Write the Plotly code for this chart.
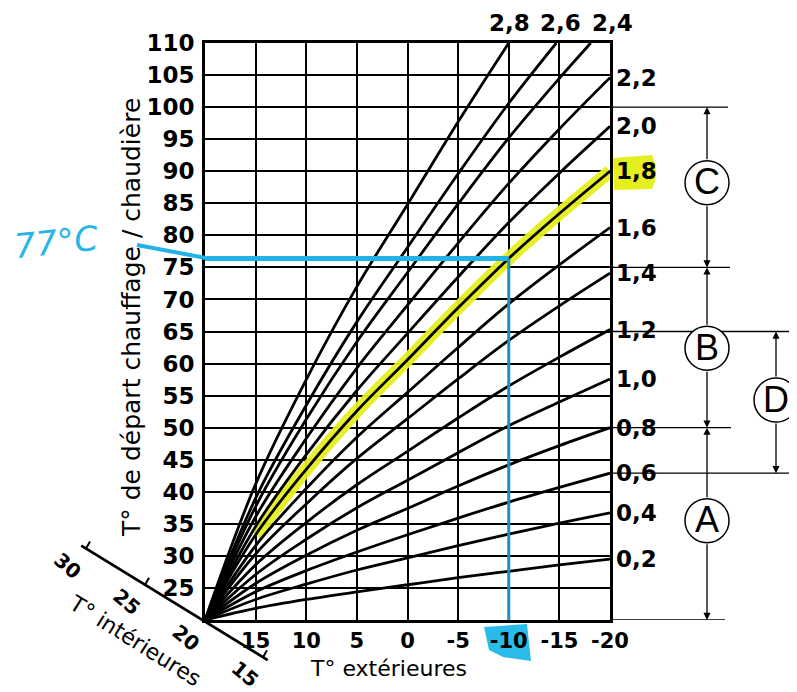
import plotly.graph_objects as go

# ---------------- data ----------------
t_ext = [20, 15, 10, 5, 0, -5, -10, -15, -20]
curve_02 = [20, 21.8, 23.2, 24.4, 25.5, 26.6, 27.6, 28.6, 29.5]
curve_04 = [20, 23.2, 25.6, 27.8, 29.7, 31.6, 33.4, 35.1, 36.7]
curve_06 = [20, 24.4, 27.7, 30.6, 33.3, 35.9, 38.4, 40.7, 42.9]
curve_08 = [20, 25.7, 30.1, 34.0, 37.4, 40.9, 44.2, 47.2, 50.0]
curve_10 = [20, 27.1, 32.6, 37.5, 41.8, 46.1, 50.3, 54.0, 57.6]
curve_12 = [20, 28.6, 35.2, 41.1, 46.3, 51.5, 56.5, 61.0, 65.3]
curve_14 = [20, 30.3, 38.1, 45.2, 51.4, 57.6, 63.6, 69.0, 74.1]
curve_16 = [20, 31.6, 40.5, 48.5, 55.5, 62.5, 69.3, 75.4, 81.2]
curve_18 = [20, 33.3, 43.5, 52.6, 60.6, 68.7, 76.4, 83.4, 90.0]
curve_20 = [20, 34.6, 45.8, 55.8, 64.7, 73.5, 82.0, 89.7, 97.0]
curve_22 = [20, 36.1, 48.3, 59.3, 69.1, 78.8, 88.1, 96.6, 104.6]
t_ext_24 = [20, 15, 10, 5, 0, -5, -10, -15, -18.1]
curve_24 = [20, 37.7, 51.3, 63.4, 74.2, 84.9, 95.2, 104.5, 110]
t_ext_26 = [20, 15, 10, 5, 0, -5, -10, -14.7]
curve_26 = [20, 39.0, 53.5, 66.5, 78.1, 89.6, 100.6, 110]
t_ext_28 = [20, 15, 10, 5, 0, -5, -10]
curve_28 = [20, 41.2, 57.5, 72.0, 84.8, 97.7, 110]

right_labels = ["0,2", "0,4", "0,6", "0,8", "1,0", "1,2", "1,4", "1,6", "1,8", "2,0", "2,2"]
top_labels = ["2,4", "2,6", "2,8"]

y_tick_vals = [20, 25, 30, 35, 40, 45, 50, 55, 60, 65, 70, 75, 80, 85, 90, 95, 100, 105, 110]
x_tick_vals = [20, 15, 10, 5, 0, -5, -10, -15, -20]
interior_ticks = [30, 25, 20, 15]

zone_letters = ["C", "B", "A", "D"]
zone_top = [100, 75, 50, 65]
zone_bottom = [75, 50, 20, 42.9]
zone_mid = [88.2, 62.4, 35.5, 54.3]

reading_flow = 76.4   # 77°C reading
reading_ext = -10
reading_text = "77°C"

# ---------------- layout helpers ----------------
PAGE_W, PAGE_H = 797, 692
OFF = 8                       # default page body margin
L, R, T, B = 205, 610, 43, 620  # plot area in page pixels


def px(x):
    return (x - L) / (R - L)


def py(y):
    return (B - y) / (B - T)


FONT = "DejaVu Sans"
fig = go.Figure()

std_curves = [curve_02, curve_04, curve_06, curve_08, curve_10, curve_12,
              curve_14, curve_16, curve_18, curve_20, curve_22]

# yellow highlighter along the 1,8 curve
fig.add_trace(go.Scatter(x=t_ext[1:], y=curve_18[1:], mode="lines",
                         line=dict(color="#e6ef1e", width=13, shape="spline"),
                         opacity=0.95, hoverinfo="skip", showlegend=False))

for c in std_curves:
    fig.add_trace(go.Scatter(x=t_ext, y=c, mode="lines",
                             line=dict(color="black", width=2.8, shape="spline"),
                             showlegend=False))
for xs, ys in [(t_ext_24, curve_24), (t_ext_26, curve_26), (t_ext_28, curve_28)]:
    fig.add_trace(go.Scatter(x=xs, y=ys, mode="lines",
                             line=dict(color="black", width=2.8, shape="spline"),
                             showlegend=False))

fig.update_xaxes(range=[20, -20], tickmode="array", tickvals=x_tick_vals,
                 ticktext=["" if v == 20 else str(v) for v in x_tick_vals],
                 showgrid=True, gridcolor="black", gridwidth=2.2,
                 showline=True, linecolor="black", linewidth=2.8, mirror=True,
                 zeroline=False, ticks="", ticklabelstandoff=0,
                 tickfont=dict(family=FONT, size=21, color="black", weight="bold"),
                 automargin=False)
fig.update_yaxes(range=[20, 110], tickmode="array", tickvals=y_tick_vals,
                 ticktext=["" if v == 20 else str(v) for v in y_tick_vals],
                 showgrid=True, gridcolor="black", gridwidth=2.2,
                 showline=True, linecolor="black", linewidth=2.8, mirror=True,
                 zeroline=False, ticks="", ticklabelstandoff=3,
                 tickfont=dict(family=FONT, size=23, color="black", weight="bold"),
                 automargin=False)

shapes = []
ann = []

# right-end slope labels
for lab, c in zip(right_labels, std_curves):
    ann.append(dict(x=-20, y=c[-1], xref="x", yref="y", text=lab, showarrow=False,
                    xanchor="left", yanchor="middle", xshift=4,
                    font=dict(family=FONT, size=23, color="black", weight="bold")))
# top slope labels
for lab, xs, shift in zip(top_labels, [t_ext_24[-1], t_ext_26[-1], t_ext_28[-1]], [22, 4, 1]):
    ann.append(dict(x=xs, y=110, xref="x", yref="y", text=lab, showarrow=False,
                    xanchor="center", yanchor="bottom", yshift=5, xshift=shift,
                    font=dict(family=FONT, size=23, color="black", weight="bold")))

# yellow highlight behind "1,8"
shapes.append(dict(type="path", xref="paper", yref="paper", layer="below",
                   path=f"M {px(613)},{py(158)} L {px(652)},{py(155)} Q {px(660)},{py(172)} {px(652)},{py(189)} L {px(614)},{py(190)} Z",
                   fillcolor="#e6ef1e", line=dict(width=0)))

# axis titles
ann.append(dict(x=px(388), y=py(668), xref="paper", yref="paper", text="T° extérieures",
                showarrow=False, xanchor="center", yanchor="middle",
                font=dict(family=FONT, size=22, color="black")))
ann.append(dict(x=px(131), y=py(318), xref="paper", yref="paper",
                text="T° de départ chauffage / chaudière", textangle=-90,
                showarrow=False, xanchor="center", yanchor="middle",
                font=dict(family=FONT, size=25, color="black")))

# inner temperature diagonal axis
ox, oy = 204, 621
ddx, ddy = -11.8, -7.25


def ipos(t):
    return ox + (t - 20) * ddx, oy + (t - 20) * ddy


x0, y0 = ipos(30.4)
x1, y1 = ipos(14.6)
shapes.append(dict(type="line", xref="paper", yref="paper", x0=px(x0), y0=py(y0),
                   x1=px(x1), y1=py(y1), line=dict(color="black", width=2.8)))
for t in interior_ticks:
    tx, ty = ipos(t)
    shapes.append(dict(type="line", xref="paper", yref="paper", x0=px(tx), y0=py(ty),
                       x1=px(tx + 4), y1=py(ty - 7), line=dict(color="black", width=2)))
    ann.append(dict(x=px(tx - 18), y=py(ty + 17), xref="paper", yref="paper", text=str(t),
                    textangle=40, showarrow=False, xanchor="center", yanchor="middle",
                    font=dict(family=FONT, size=20, color="black", weight="bold")))
ann.append(dict(x=px(135), y=py(640), xref="paper", yref="paper", text="T° intérieures",
                textangle=32, showarrow=False, xanchor="center", yanchor="middle",
                font=dict(family=FONT, size=22, color="black")))

# right-hand zone lines
for yv, xe in [(100, 728), (75, 730), (65, 797), (50, 731), (42.9, 792), (20, 725)]:
    shapes.append(dict(type="line", xref="paper", yref="y", x0=1, x1=px(xe), y0=yv, y1=yv,
                       line=dict(color="black", width=1.3)))

zone_x = [707, 707, 707, 776]
for letter, ytop, ybot, ymid, zx in zip(zone_letters, zone_top, zone_bottom, zone_mid, zone_x):
    cy = B - (ymid - 20) * (B - T) / 90
    rad = 22
    ytop_px = B - (ytop - 20) * (B - T) / 90
    ybot_px = B - (ybot - 20) * (B - T) / 90
    ann.append(dict(x=px(zx), y=ytop, xref="paper", yref="y", text="", showarrow=True,
                    ax=0, ay=(cy - rad) - ytop_px, arrowhead=2, arrowsize=1.1,
                    arrowwidth=1.3, arrowcolor="black", standoff=0))
    ann.append(dict(x=px(zx), y=ybot, xref="paper", yref="y", text="", showarrow=True,
                    ax=0, ay=(cy + rad) - ybot_px, arrowhead=2, arrowsize=1.1,
                    arrowwidth=1.3, arrowcolor="black", standoff=0))
    shapes.append(dict(type="circle", xref="paper", yref="y", xsizemode="pixel",
                       ysizemode="pixel", xanchor=px(zx), yanchor=ymid,
                       x0=-rad, x1=rad, y0=-rad, y1=rad,
                       line=dict(color="black", width=1.5), fillcolor="white"))
    ann.append(dict(x=px(zx), y=ymid, xref="paper", yref="y", text=letter, showarrow=False,
                    xanchor="center", yanchor="middle", yshift=1,
                    font=dict(family="Liberation Sans", size=36, color="black")))

# blue hand markings
shapes.append(dict(type="line", xref="x", yref="y", x0=20, x1=reading_ext,
                   y0=reading_flow, y1=reading_flow, layer="above",
                   line=dict(color="#22b3e6", width=5)))
shapes.append(dict(type="line", xref="paper", yref="paper", x0=px(137), y0=py(245),
                   x1=px(206), y1=py(258), line=dict(color="#22b3e6", width=4)))
shapes.append(dict(type="line", xref="x", yref="y", x0=reading_ext, x1=reading_ext,
                   y0=reading_flow, y1=20, layer="above",
                   line=dict(color="#1d8fc6", width=3)))
shapes.append(dict(type="path", xref="paper", yref="paper", layer="below",
                   path=f"M {px(484)},{py(627)} L {px(527)},{py(624)} L {px(531)},{py(661)} L {px(503)},{py(657)} L {px(489)},{py(650)} Z",
                   fillcolor="#2bbbe8", line=dict(width=0)))
ann.append(dict(x=px(56), y=py(242), xref="paper", yref="paper", text=reading_text,
                textangle=-6, showarrow=False, xanchor="center", yanchor="middle",
                font=dict(family="DejaVu Sans", size=34, color="#27b5e8", style="italic")))

fig.update_layout(width=PAGE_W - OFF, height=PAGE_H - OFF,
                  margin=dict(l=L - OFF, r=PAGE_W - R, t=T - OFF, b=PAGE_H - B, pad=0),
                  paper_bgcolor="white", plot_bgcolor="white",
                  showlegend=False, shapes=shapes, annotations=ann,
                  font=dict(family=FONT, color="black"))

fig.write_html("out.html")
